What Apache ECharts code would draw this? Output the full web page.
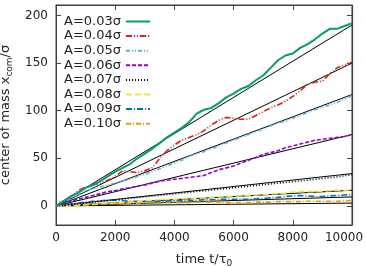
<!DOCTYPE html>
<html><head><meta charset="utf-8">
<script src="https://cdn.jsdelivr.net/npm/echarts@6/dist/echarts.min.js"></script>
<style>html,body{margin:0;padding:0;background:#fff}#c{width:366px;height:267px}</style>
</head><body><div id="c"></div>
<script>
const time = [0,250,500,750,1000,1250,1500,1750,2000,2250,2500,2750,3000,3250,3500,3750,4000,4250,4500,4750,5000,5250,5500,5750,6000,6250,6500,6750,7000,7250,7500,7750,8000,8250,8500,8750,9000,9250,9500,9750,10000];
const names = ['A=0.03σ','A=0.04σ','A=0.05σ','A=0.06σ','A=0.07σ','A=0.08σ','A=0.09σ','A=0.10σ'];
const a003 = [0,5,10,14,19,22,26,31,36,40,44,50,55,60,66,72,77,82,88,97,101,103,108,114,118,123,126,132,137,145,153,158,160,166,170,175,181,186,186,189,192];
const a004 = [0,5,10,16,20,22,24,27,31,37,36,35,37,40,50,58,64,69,72,75,79,85,90,93,92,91,91,95,99,103,106,110,115,121,128,130,131,139,145,148,151];
const a005 = [0,4,8,12,16,18,20,22,24,26,28,31,33,36,39,42,45,48,52,55,57,60,63,66,69,72,75,78,81,84,87,89,92,95,98,101,104,106,109,112,116];
const a006 = [0,2,5,7,9,11,13,15,16,18,19,21,22,24,26,27,28,29,30,31,32,35,38,40,42,45,48,51,54,56,58,61,63,65,67,69,70,71,72,73,75];
const a007 = [0,0.8,1.6,2.4,3.2,4,4.8,5.6,6.4,7.2,8,8.8,9.6,10.4,11.2,12,12.8,13.6,14.4,15.2,15.9,16.7,17.5,18.3,19.1,19.9,20.7,21.5,22.3,23.1,23.9,24.7,25.5,26.3,27.1,28,28.8,29.7,30.6,31.7,33];
const a008 = [0,-0.5,0,0.5,1,1.5,2,2.5,3,3.5,4,4.5,5.5,6,6.5,7,7,7.5,8,8,8.5,9,9.5,10,10.5,10.5,11,11.5,12,12.5,13,13.5,14.5,15,15,15,15.5,16,16.5,16.5,17];
const a009 = [0,1,2,3,4,5,5.5,6,6,5.5,5,5,5,5,4.5,5,5.5,5.5,6,6,6.5,6.5,7,7,7,7,7,7.5,8,8.5,9,10,10.5,11,10.5,10,10,10.5,11,11.5,12];
const a010 = [0,0.5,1,1.5,2,2,2.5,2.5,3,3,3,3,3.5,3.5,3.5,3.5,3.5,3.5,3.5,4,4,4,4,3.5,3.5,3.5,3.5,4,4,4,4.5,4.5,4.5,4.5,5,5,5,5,5,5.5,5.5];
const fitEnd = [190,150,117,75,34,16.5,9.5,3];
const xTicks = [0,2000,4000,6000,8000,10000];
const yTicks = [0,50,100,150,200];
const xRange = [0,10000];
const yRange = [-20,211];

const dataSets = [a003,a004,a005,a006,a007,a008,a009,a010];
const colors = ['#009e73','#e51e10','#56b4e9','#9400d3','#000000','#f0e442','#0072b2','#e69f00'];
const dashes = ['solid',[6,2,1,2,1,2],[4,2,1,2,1,2],[4,2],[1,2],[6,3],[6,2,1,2],[5,2,1,2]];
const widths = [2,1.6,1.6,1.6,1.6,1.6,1.6,1.6];
const border = '#404040';

const series = [];
fitEnd.forEach((e,i)=>{
  series.push({type:'line',name:'fit'+i,data:[[0,0],[10000,e]],symbol:'none',silent:true,
    lineStyle:{color:'#000',width:1},z:1});
});
dataSets.forEach((d,i)=>{
  const s = {type:'line',name:names[i],data:time.map((t,j)=>[t,d[j]]),symbol:'none',showSymbol:false,
    lineStyle:{color:colors[i],width:widths[i],type:dashes[i]},itemStyle:{color:colors[i]},z:2+(8-i)};
  if (i===0) {
    s.markLine = {silent:true,symbol:['none','none'],label:{show:false},animation:false,
      lineStyle:{color:border,width:1.2,type:'solid'},emphasis:{disabled:true},
      data:[{xAxis:xRange[1]},{yAxis:yRange[1]},{yAxis:yRange[0]}]};
  }
  series.push(s);
});
series.push({type:'line',name:'mirror',xAxisIndex:1,yAxisIndex:1,data:[[0,-100],[10000,-100]],symbol:'none',silent:true,lineStyle:{opacity:0}});

const line = () => ({show:true,onZero:false,lineStyle:{color:border,width:1}});
const subRich = {a:{fontFamily:'DejaVu Sans',fontSize:13,color:'#222'},s:{fontFamily:'DejaVu Sans',fontSize:9,color:'#222',verticalAlign:'bottom',padding:[8,0,0,0]}};
const chart = echarts.init(document.getElementById('c'));
chart.setOption({
  animation:false,
  grid:{left:56,right:14,top:5,bottom:42,outerBoundsMode:'none',show:true,borderColor:border,borderWidth:1},
  legend:{data:names,orient:'vertical',left:64,top:15,align:'right',itemWidth:24,itemHeight:14,itemGap:1.6,
    itemStyle:{opacity:0},
    textStyle:{fontFamily:'DejaVu Sans',fontSize:13,color:'#222'},padding:0},
  xAxis:[
    {type:'value',min:xRange[0],max:xRange[1],interval:2000,position:'bottom',
      name:'{a|time t/τ}{s|0}',nameLocation:'middle',nameGap:26,nameTextStyle:{rich:subRich},
      axisLine:line(),axisTick:{inside:true,length:5,lineStyle:{color:border}},splitLine:{show:false},
      axisLabel:{fontFamily:'DejaVu Sans',fontSize:12,color:'#222',margin:7,
        formatter:v=>v===10000?'{r|10000}':String(v),
        rich:{r:{fontFamily:'DejaVu Sans',fontSize:12,color:'#222',padding:[0,16,0,0]}}}},
    {type:'value',min:xRange[0],max:xRange[1],interval:2000,position:'top',
      axisLine:line(),axisTick:{inside:true,length:5,lineStyle:{color:border}},splitLine:{show:false},axisLabel:{show:false}}
  ],
  yAxis:[
    {type:'value',min:yRange[0],max:yRange[1],position:'left',
      name:'{a|center of mass x}{s|com}{a|/σ}',nameLocation:'middle',nameGap:37,nameRotate:90,nameTextStyle:{rich:subRich},
      axisLine:line(),axisTick:{inside:true,length:5,customValues:yTicks,lineStyle:{color:border}},splitLine:{show:false},
      axisLabel:{customValues:yTicks,fontFamily:'DejaVu Sans',fontSize:12,color:'#222',margin:8}},
    {type:'value',min:yRange[0],max:yRange[1],position:'right',
      axisLine:line(),axisTick:{inside:true,length:5,customValues:yTicks,lineStyle:{color:border}},splitLine:{show:false},
      axisLabel:{show:false,customValues:yTicks}}
  ],
  series:series
});
</script></body></html>
